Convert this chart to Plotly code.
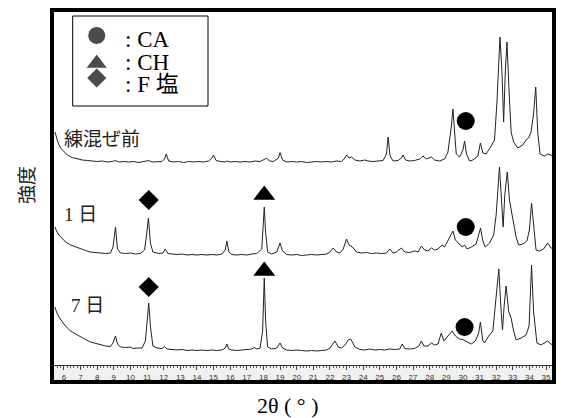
import plotly.graph_objects as go

# ---------------- data (2θ in degrees, intensity in arbitrary units) ----------------
BEFORE_X = [5.46, 5.55, 5.65, 5.8, 6.0, 6.2, 6.5, 6.8, 7.1, 7.4, 7.7, 8.0, 8.3, 8.6, 8.9, 9.1, 9.3, 9.6, 9.9,
            10.2, 10.5, 10.8, 11.1, 11.3, 11.6, 11.9, 12.05, 12.15, 12.3, 12.6, 12.9, 13.2, 13.5, 13.8, 14.1,
            14.4, 14.7, 14.9, 15.0, 15.15, 15.4, 15.7, 15.8, 16.0, 16.3, 16.6, 16.9, 17.2, 17.5, 17.8, 18.1,
            18.2, 18.35, 18.6, 18.9, 19.0, 19.15, 19.4, 19.7, 20.0, 20.3, 20.6, 20.9, 21.2, 21.5, 21.8, 22.1,
            22.4, 22.7, 22.9, 23.0, 23.15, 23.3, 23.5, 23.8, 24.1, 24.3, 24.6, 24.9, 25.2, 25.4, 25.5, 25.62,
            25.8, 26.1, 26.3, 26.4, 26.55, 26.8, 27.1, 27.4, 27.6, 27.8, 28.0, 28.1, 28.3, 28.6, 28.9, 29.1,
            29.3, 29.4, 29.5, 29.6, 29.8, 30.0, 30.1, 30.22, 30.4, 30.6, 30.9, 31.05, 31.2, 31.4, 31.7, 31.9,
            32.05, 32.23, 32.35, 32.45, 32.55, 32.65, 32.78, 32.9, 33.05, 33.3, 33.6, 33.8, 33.95, 34.1, 34.25,
            34.38, 34.5, 34.64, 34.9, 35.1, 35.3, 35.48]
BEFORE_I = [30, 24, 19, 14, 10, 7, 4.5, 3, 2, 1.5, 1, 0.5, 1, 0, 0.5, 1.5, 0, 0.5, 0,
            0.5, -0.5, 0.5, 1.5, 0, 0.5, 0.5, 3, 8, 1, 0, 0.5, -0.5, 0.5, 0, 0.5,
            0, 1, 4, 7, 1.5, 0.5, 0, 1, 0, 0.5, 0, 0.5, 0, 1, 0.5, 3,
            4, 1, 0.5, 4, 9.5, 2, 0, 0.5, 0, 0.5, -0.5, 0, 0.5, 0, 0.5, 0,
            1, 0.5, 4, 7, 4, 5, 2, 1, 2, 1, 0.5, 1, 1.5, 8, 25, 6,
            1, 1.5, 4, 7, 2, 1, 1.5, 3, 6, 3, 4, 5, 2, 1, 3, 10,
            35, 53, 30, 8, 5, 12, 21, 8, 1, 2, 6, 19, 9, 8, 16, 22,
            60, 125, 90, 40, 90, 120, 70, 30, 20, 14, 17, 22, 24, 30, 48,
            75, 30, 8, 6, 8, 7, 5]

DAY1_X = [5.46, 5.55, 5.7, 5.9, 6.1, 6.4, 6.7, 7.0, 7.3, 7.6, 7.9, 8.2, 8.5, 8.8, 8.95, 9.1, 9.22, 9.4, 9.7,
          10.0, 10.3, 10.6, 10.85, 10.97, 11.08, 11.2, 11.35, 11.7, 11.95, 12.1, 12.25, 12.5, 12.8, 13.1,
          13.4, 13.7, 14.0, 14.3, 14.6, 14.9, 15.2, 15.5, 15.7, 15.8, 15.92, 16.1, 16.4, 16.7, 17.0, 17.3,
          17.6, 17.9, 18.0, 18.05, 18.12, 18.25, 18.5, 18.8, 19.0, 19.15, 19.4, 19.7, 20.0, 20.3, 20.6,
          20.9, 21.2, 21.5, 21.8, 22.0, 22.2, 22.4, 22.6, 22.8, 23.0, 23.15, 23.35, 23.6, 23.9, 24.2, 24.5,
          24.8, 25.1, 25.4, 25.6, 25.8, 26.0, 26.3, 26.5, 26.8, 27.1, 27.3, 27.5, 27.7, 27.9, 28.1, 28.3,
          28.5, 28.75, 28.9, 29.1, 29.3, 29.4, 29.55, 29.75, 29.95, 30.1, 30.25, 30.5, 30.8, 31.06, 31.2,
          31.35, 31.6, 31.85, 32.0, 32.2, 32.32, 32.42, 32.52, 32.67, 32.8, 32.9, 33.05, 33.2, 33.35, 33.6,
          33.85, 34.0, 34.13, 34.25, 34.4, 34.6, 34.85, 35.1, 35.3, 35.48]
DAY1_I = [28, 24, 20, 16, 13, 10, 8, 6, 4.5, 3, 2.5, 2, 1.5, 2, 8, 28, 6, 2, 1.5,
          2, 1, 1.5, 5, 20, 37, 12, 3, 1.5, 2, 6, 1.5, 1, 0.5, 1,
          0, 0.5, 0, 0.5, 0, 0.5, 0, 1, 5, 14, 3, 0.5, 0, 0.5, 0, 1,
          1.5, 6, 30, 48, 25, 3, 1, 3, 12, 4, 0.5, 0, 0.5, -0.5, 0,
          0.5, 0, 0.5, 1, 3, 7, 3, 2, 6, 16, 10, 8, 3, 2, 2.5, 1.5,
          2, 1.5, 2, 6, 2, 3, 7, 3, 2.5, 4, 3, 9, 5, 4, 7, 5,
          6, 10, 8, 14, 20, 24, 15, 11, 8, 10, 6, 8, 11, 27, 14,
          8, 12, 20, 40, 88, 55, 28, 60, 83, 55, 45, 32, 18, 10, 11,
          14, 25, 52, 30, 5, 4, 6, 12, 7, 6]

DAY7_X = [5.46, 5.55, 5.7, 5.85, 6.0, 6.2, 6.4, 6.7, 7.0, 7.3, 7.6, 7.9, 8.2, 8.5, 8.8, 8.95, 9.1, 9.22, 9.4,
          9.7, 10.0, 10.15, 10.4, 10.7, 10.9, 11.0, 11.1, 11.2, 11.35, 11.6, 11.9, 12.05, 12.2, 12.5, 12.8,
          13.1, 13.4, 13.7, 14.0, 14.3, 14.6, 14.9, 15.2, 15.5, 15.7, 15.8, 15.92, 16.1, 16.4, 16.7, 17.0,
          17.3, 17.45, 17.6, 17.8, 17.95, 18.05, 18.13, 18.25, 18.5, 18.8, 19.0, 19.15, 19.4, 19.7, 20.0,
          20.3, 20.6, 20.9, 21.2, 21.5, 21.8, 22.0, 22.3, 22.5, 22.7, 22.9, 23.1, 23.25, 23.5, 23.8, 24.1,
          24.4, 24.7, 25.0, 25.3, 25.6, 25.9, 26.2, 26.35, 26.5, 26.8, 27.1, 27.35, 27.5, 27.65, 27.9, 28.1,
          28.3, 28.5, 28.7, 28.85, 29.05, 29.25, 29.35, 29.55, 29.8, 30.05, 30.25, 30.5, 30.75, 30.95, 31.05,
          31.2, 31.3, 31.55, 31.8, 31.98, 32.16, 32.28, 32.38, 32.48, 32.6, 32.75, 32.9, 33.05, 33.2, 33.5,
          33.8, 33.98, 34.13, 34.25, 34.45, 34.7, 34.9, 35.1, 35.3, 35.48]
DAY7_I = [44, 39, 34, 30, 27, 23, 20, 17, 14, 11.5, 9, 7.5, 6, 5, 4.5, 8, 15, 7, 4,
          3.5, 4, 2.5, 3, 3, 10, 30, 48, 25, 5, 3, 2.5, 4.5, 2, 1.5, 1,
          1.5, 0.5, 1, 0.5, 1, 0.5, 1, 0.5, 1, 3, 7, 2, 1, 0.5, 1, 1.5,
          2, 3.5, 2, 3, 20, 73, 30, 4, 2, 3, 8, 3, 1, 0.5, 1,
          0.5, 0, 0.5, 0, 0.5, 1, 3, 10, 4, 3, 6, 11, 12, 4, 1.5, 1,
          2, 1, 1.5, 1, 2, 1.5, 2, 7, 2.5, 2, 2.5, 5, 10, 5, 5, 8,
          6, 7, 18, 10, 14, 18, 20, 15, 12, 11, 9, 7, 10, 18, 29,
          10, 8, 15, 20, 50, 82, 45, 21, 45, 65, 40, 33, 20, 11, 13,
          16, 25, 86, 40, 8, 6, 8, 10, 7, 5]

# vertical offsets of the stacked patterns
OFFSETS = {"before": 203, "day1": 110, "day7": 14}

# phase marker positions (2θ, stacked intensity)
CA_X = [30.17, 30.17, 30.1]
CA_Y = [244, 138, 38]
CH_X = [18.05, 18.05]
CH_Y = [170, 94]
F_X = [11.1, 11.1]
F_Y = [165, 78]

# legend key positions (axis units)
KEY_X = [7.97, 7.97, 7.97]
KEY_Y = [329.5, 301.5, 287]
KEY_SYMBOLS = ["circle", "triangle-up", "diamond"]
KEY_SIZES = [18, 19, 15.5]
KEY_TEXT = [": CA", ": CH", ": F 塩"]

TRACE_LABELS = ["練混ぜ前", "1 日", "7 日"]

LINE_COLOR = "#222222"
CJK = "Liberation Serif, Noto Sans CJK JP"

fig = go.Figure()

for xs, ys, key in [(BEFORE_X, BEFORE_I, "before"), (DAY1_X, DAY1_I, "day1"), (DAY7_X, DAY7_I, "day7")]:
    fig.add_trace(go.Scatter(
        x=xs, y=[v + OFFSETS[key] for v in ys], mode="lines",
        line=dict(color=LINE_COLOR, width=1), showlegend=False, hoverinfo="skip"))

fig.add_trace(go.Scatter(x=CA_X, y=CA_Y, mode="markers",
                         marker=dict(symbol="circle", size=18, color="black"), showlegend=False))
fig.add_trace(go.Scatter(x=CH_X, y=CH_Y, mode="markers",
                         marker=dict(symbol="triangle-up", size=19, color="black"), showlegend=False))
fig.add_trace(go.Scatter(x=F_X, y=F_Y, mode="markers",
                         marker=dict(symbol="diamond", size=15.5, color="black"), showlegend=False))
fig.add_trace(go.Scatter(x=KEY_X, y=KEY_Y, mode="markers",
                         marker=dict(symbol=KEY_SYMBOLS, size=KEY_SIZES, color="black"), showlegend=False))

W, H = 561, 418
L, R, T, B = 52, 7, 10, 36
PW, PH = W - L - R, H - T - B
strip_top = (382 - 365) / PH


def px(xp):
    return (xp - L) / PW


def py(yp):
    return (H - B - yp) / PH


shapes = [
    # ruler strip
    dict(type="rect", xref="paper", yref="paper", x0=0, x1=1, y0=0, y1=strip_top,
         fillcolor="#f0f0f0", line=dict(width=0), layer="below"),
    # legend box
    dict(type="rect", xref="paper", yref="paper", x0=px(72.7), x1=px(208), y0=py(106), y1=py(16),
         fillcolor="white", line=dict(color="black", width=1), layer="below"),
    # outer frame
    dict(type="rect", xref="paper", yref="paper", x0=0, x1=1, y0=0, y1=1,
         line=dict(color="black", width=4), layer="above"),
]

annotations = []
for txt, yp in zip(KEY_TEXT, [39, 63, 84]):
    annotations.append(dict(text=txt, xref="paper", yref="paper", x=px(123), y=py(yp),
                            xanchor="left", yanchor="middle", showarrow=False,
                            font=dict(family=CJK, size=23, color="black")))
for txt, xp, yp in zip(TRACE_LABELS, [62, 62, 69], [139, 215, 305]):
    annotations.append(dict(text=txt, xref="paper", yref="paper", x=px(xp), y=py(yp),
                            xanchor="left", yanchor="middle", showarrow=False,
                            font=dict(family=CJK, size=19, color="#222")))
annotations.append(dict(text="2θ ( ° )", xref="paper", yref="paper", x=px(288), y=py(405),
                        xanchor="center", yanchor="middle", showarrow=False,
                        font=dict(family="Liberation Serif, Noto Sans CJK JP", size=22, color="black")))
annotations.append(dict(text="強度", xref="paper", yref="paper", x=px(25), y=py(185),
                        xanchor="center", yanchor="middle", showarrow=False, textangle=-90,
                        font=dict(family="Noto Sans CJK JP", size=19, color="#222")))

fig.update_layout(
    width=W, height=H, margin=dict(l=L, r=R, t=T, b=B),
    paper_bgcolor="white", plot_bgcolor="white",
    shapes=shapes, annotations=annotations, showlegend=False,
    xaxis=dict(range=[5.28, 35.48], showgrid=False, zeroline=False, showline=True,
               linecolor="#333", linewidth=1, ticks="outside", ticklen=4, tickwidth=1,
               tickcolor="#444", dtick=1, tick0=0,
               minor=dict(dtick=0.2, ticks="outside", ticklen=2, tickcolor="#666", showgrid=False),
               tickfont=dict(family="Liberation Sans", size=8, color="#333")),
    yaxis=dict(range=[0, 355], domain=[strip_top, 1], visible=False, showgrid=False, zeroline=False),
)

fig.write_html("out.html", config={"displayModeBar": False},
               post_script="document.body.style.margin='0px';document.body.style.overflow='hidden';")
